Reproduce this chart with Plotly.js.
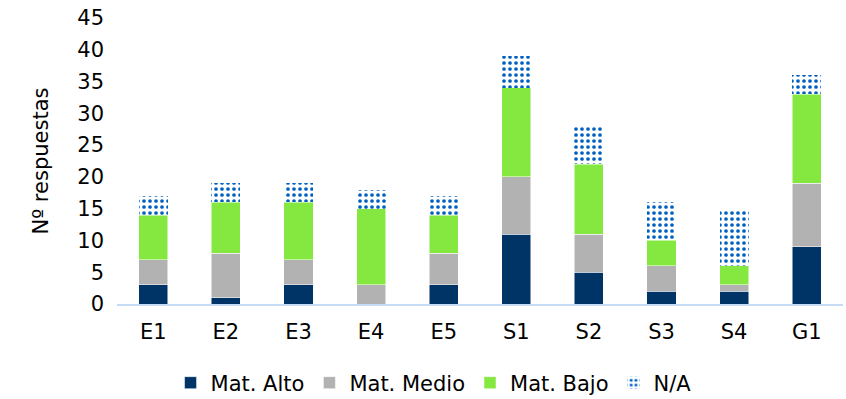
<!DOCTYPE html>
<html><head><meta charset="utf-8">
<script src="https://cdn.plot.ly/plotly-3.0.1.min.js"></script>
<style>body{margin:0;padding:0;background:#fff}#c{width:846px;height:399px}</style>
</head><body><div id="c"></div>
<script>
var categories = ["E1","E2","E3","E4","E5","S1","S2","S3","S4","G1"];
var matAlto  = [3, 1, 3, 0, 3, 11, 5, 2, 2, 9];
var matMedio = [4, 7, 4, 3, 5, 9, 6, 4, 1, 10];
var matBajo  = [7, 8, 9, 12, 6, 14, 11, 4, 3, 14];
var na       = [3, 3, 3, 3, 3, 5, 6, 6, 9, 3];
var yTicks = [0,5,10,15,20,25,30,35,40,45];

var font = {family:"DejaVu Sans, Verdana, sans-serif", size:21, color:"#000"};
var traces = [
  {type:"bar", name:"Mat. Alto", x:categories, y:matAlto, marker:{color:"#003366", line:{color:"#ffffff", width:0.5}}},
  {type:"bar", name:"Mat. Medio", x:categories, y:matMedio, marker:{color:"#b2b2b2", line:{color:"#ffffff", width:0.5}}},
  {type:"bar", name:"Mat. Bajo", x:categories, y:matBajo, marker:{color:"#84e840", line:{color:"#ffffff", width:0.5}}},
  {type:"bar", name:"N/A", x:categories, y:na, marker:{color:"#ffffff", line:{color:"#ffffff", width:0},
    pattern:{shape:".", fgcolor:"#0060c0", bgcolor:"#ffffff", size:6, solidity:0.3, fillmode:"replace"}}}
];
var layout = {
  width:846, height:399,
  barmode:"stack", bargap:0.6,
  margin:{l:117, r:3, t:18, b:95, autoexpand:false},
  paper_bgcolor:"#fff", plot_bgcolor:"#fff",
  font:font,
  showlegend:true,
  legend:{orientation:"h", xref:"paper", x:0.436, xanchor:"center", yref:"container", y:16/399, yanchor:"middle", font:font, traceorder:"normal", itemwidth:30, tracegroupgap:0},
  xaxis:{type:"category", automargin:false, showline:true, linecolor:"#c6dcf5", linewidth:2, ticks:"", tickfont:font, showgrid:false, zeroline:false, ticklabelstandoff:8},
  yaxis:{range:[0,45], automargin:true, tickvals:yTicks, ticktext:yTicks.map(String), showgrid:false, zeroline:false, showline:false, ticks:"", tickfont:font,
    ticklabelstandoff:12, title:{text:"Nº respuestas", font:font, standoff:22}}
};
Plotly.newPlot("c", traces, layout, {staticPlot:true, displayModeBar:false});
</script></body></html>
